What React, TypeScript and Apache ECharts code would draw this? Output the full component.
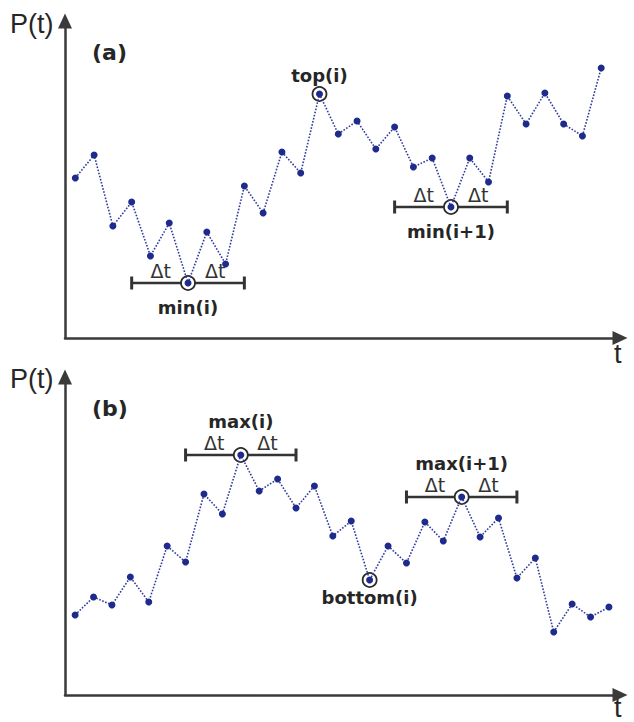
import React, { useEffect, useRef } from "react";
import * as echarts from "echarts";

// Panel (a): P(t) values at successive time steps
const stepsA = [16.0, 18.3, 11.2, 13.6, 8.2, 11.5, 5.5, 10.6, 7.4, 15.2, 12.5, 18.6, 16.5, 24.4, 20.4, 21.7, 18.9, 21.1, 17.1, 18.0, 13.1, 18.0, 15.6, 24.2, 21.4, 24.5, 21.4, 20.2, 27.0];
// Panel (b)
const stepsB = [8.0, 9.8, 9.0, 11.8, 9.3, 14.9, 13.3, 20.1, 18.1, 24.0, 20.4, 21.6, 18.7, 20.9, 15.9, 17.4, 11.5, 14.9, 13.2, 17.3, 15.4, 19.8, 15.8, 17.7, 11.7, 13.7, 6.3, 9.1, 7.8, 8.8];

const deltaT = 3;
const markersA = [
  { label: "min(i)", index: 6, kind: "min" },
  { label: "top(i)", index: 13, kind: "top" },
  { label: "min(i+1)", index: 20, kind: "min" },
];
const markersB = [
  { label: "max(i)", index: 9, kind: "max" },
  { label: "bottom(i)", index: 16, kind: "bottom" },
  { label: "max(i+1)", index: 21, kind: "max" },
];
const panelLabels = ["(a)", "(b)"];
const yAxisName = "P(t)";
const xAxisName = "t";
const deltaLabel = "Δt";

const AXIS = "#3a3a3a";
const TEXT = "#262626";
const DOT = "#1e2a8c";
const LINE = "#2f3c9e";

const kindStyle: Record<string, { pos: string; dist: number; window: boolean }> = {
  min: { pos: "bottom", dist: 15, window: true },
  max: { pos: "top", dist: 25, window: true },
  top: { pos: "top", dist: 10, window: false },
  bottom: { pos: "bottom", dist: 8, window: false },
};

function panelSeries(g: number, steps: number[], markers: { label: string; index: number; kind: string }[]) {
  const series: any[] = [];
  markers.forEach((m) => {
    const ks = kindStyle[m.kind];
    const v = steps[m.index];
    if (ks.window) {
      series.push({
        type: "line",
        xAxisIndex: g,
        yAxisIndex: g,
        data: [[m.index - deltaT, v], [m.index + deltaT, v]],
        symbol: "rect",
        symbolSize: [3, 13],
        showSymbol: true,
        itemStyle: { color: "#333", opacity: 1 },
        lineStyle: { color: "#333", width: 2.5 },
        silent: true,
        z: 2,
      });
      series.push({
        type: "scatter",
        xAxisIndex: g,
        yAxisIndex: g,
        data: [[m.index - 1.45, v], [m.index + 1.45, v]],
        symbolSize: 0,
        silent: true,
        itemStyle: { opacity: 1 },
        label: {
          show: true,
          position: "top",
          distance: 3,
          formatter: deltaLabel,
          fontFamily: "DejaVu Sans",
          fontSize: 19,
          color: "#333",
        },
        z: 6,
      });
    }
  });
  series.push({
    type: "scatter",
    xAxisIndex: g,
    yAxisIndex: g,
    data: markers.map((m) => [m.index, steps[m.index]]),
    symbol: "circle",
    symbolSize: 14,
    itemStyle: { color: "#ffffff", borderColor: "#2a2a2a", borderWidth: 1.8, opacity: 1 },
    silent: true,
    z: 4,
  });
  series.push({
    type: "line",
    xAxisIndex: g,
    yAxisIndex: g,
    data: steps.map((v, i) => [i, v]),
    symbol: "circle",
    symbolSize: 7,
    showSymbol: true,
    itemStyle: { color: DOT, opacity: 1 },
    lineStyle: { color: LINE, width: 1.6, type: "dotted" },
    silent: true,
    z: 5,
  });
  series.push({
    type: "scatter",
    xAxisIndex: g,
    yAxisIndex: g,
    symbolSize: 0,
    silent: true,
    itemStyle: { opacity: 1 },
    data: markers.map((m) => {
      const ks = kindStyle[m.kind];
      return {
        value: [m.index, steps[m.index]],
        label: {
          show: true,
          position: ks.pos,
          distance: ks.dist,
          formatter: m.label,
          fontFamily: "DejaVu Sans",
          fontWeight: "bold",
          fontSize: 18,
          color: TEXT,
        },
      };
    }),
    z: 6,
  });
  return series;
}

function axisCommon() {
  return {
    type: "value",
    axisLine: {
      show: true,
      onZero: false,
      symbol: ["none", "triangle"],
      symbolSize: [14, 15],
      lineStyle: { color: AXIS, width: 2.5 },
    },
    axisTick: { show: false },
    axisLabel: { show: false },
    splitLine: { show: false },
  };
}

export default function App() {
  const ref = useRef<HTMLDivElement>(null);
  useEffect(() => {
    if (!ref.current) return;
    const chart = echarts.init(ref.current, null, { renderer: "svg" });
    const textStyle = (txt: string, size: number, bold: boolean) => ({
      text: txt,
      fill: TEXT,
      font: `${bold ? "bold " : ""}${size}px ${bold ? "'DejaVu Sans'" : "'Liberation Sans'"}`,
    });
    chart.setOption({
      animation: false,
      backgroundColor: "#ffffff",
      grid: [
        { left: 65, right: 14, top: 21, bottom: 384, outerBoundsMode: "none" },
        { left: 65, right: 14, top: 377, bottom: 27, outerBoundsMode: "none" },
      ],
      xAxis: [
        { ...axisCommon(), gridIndex: 0, min: -0.55, max: 29 },
        { ...axisCommon(), gridIndex: 1, min: -0.55, max: 29.6 },
      ],
      yAxis: [
        { ...axisCommon(), gridIndex: 0, min: 0, max: 31.7 },
        { ...axisCommon(), gridIndex: 1, min: 0, max: 31.8 },
      ],
      series: [...panelSeries(0, stepsA, markersA), ...panelSeries(1, stepsB, markersB)],
      graphic: [
        { type: "text", left: 10, top: 10, style: textStyle(yAxisName, 27, false) },
        { type: "text", left: 10, top: 365, style: textStyle(yAxisName, 27, false) },
        { type: "text", left: 92, top: 41, style: textStyle(panelLabels[0], 22, true) },
        { type: "text", left: 92, top: 397, style: textStyle(panelLabels[1], 22, true) },
        { type: "text", left: 614, top: 340, style: textStyle(xAxisName, 27, false) },
        { type: "text", left: 614, top: 694, style: textStyle(xAxisName, 27, false) },
      ],
    });
    return () => chart.dispose();
  }, []);
  return (
    <div
      ref={ref}
      style={{ position: "fixed", left: 0, top: 0, width: 634, height: 722, background: "#fff" }}
    />
  );
}
